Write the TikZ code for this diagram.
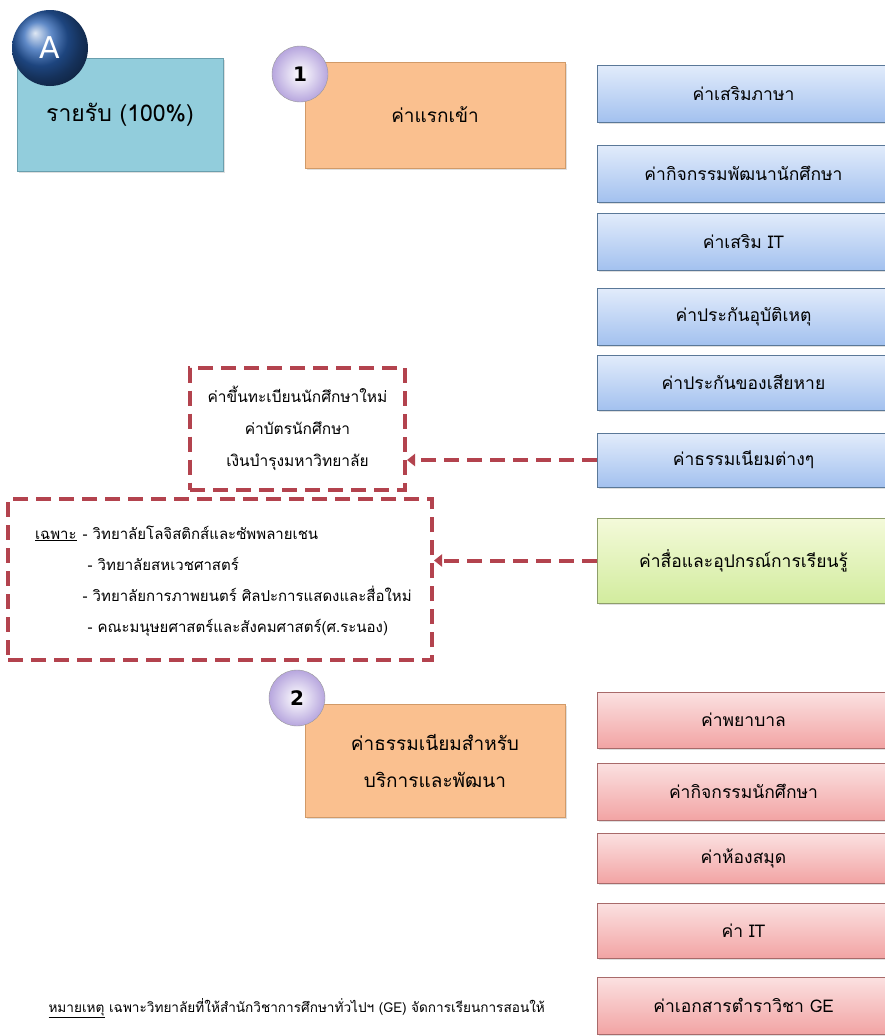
\documentclass[tikz,border=0pt]{standalone}
\usepackage{fontspec}
\setmainfont{Loma}[Script=Thai]
\setsansfont{DejaVu Sans}
\usetikzlibrary{arrows.meta,shadows}

\definecolor{tealfill}{HTML}{92CDDC}
\definecolor{tealline}{HTML}{6A9FAE}
\definecolor{orangefill}{HTML}{FAC08F}
\definecolor{orangeline}{HTML}{D19A68}
\definecolor{bluetop}{HTML}{E2ECFB}
\definecolor{bluebot}{HTML}{A3C1EF}
\definecolor{blueline}{HTML}{5A7898}
\definecolor{greentop}{HTML}{F4FADA}
\definecolor{greenbot}{HTML}{D2EC9E}
\definecolor{greenline}{HTML}{8E9E6A}
\definecolor{redtop}{HTML}{FBE1E1}
\definecolor{redbot}{HTML}{F2A4A4}
\definecolor{redline}{HTML}{A86A6A}
\definecolor{dashred}{HTML}{B3434E}
\definecolor{lavender}{HTML}{B7A6DE}
\definecolor{ballblue}{HTML}{2A62B4}

\begin{document}
\begin{tikzpicture}[x=1pt, y=-1pt,
    box/.style={rectangle, minimum width=293pt, font=\fontsize{17.5}{20}\selectfont,
        drop shadow={opacity=0.25, shadow xshift=1.5pt, shadow yshift=-2pt}},
    bluebox/.style={box, draw=blueline, top color=bluetop, bottom color=bluebot},
    greenbox/.style={box, draw=greenline, top color=greentop, bottom color=greenbot},
    redbox/.style={box, draw=redline, top color=redtop, bottom color=redbot},
    groupbox/.style={box, draw=orangeline, fill=orangefill, minimum width=260pt,
        font=\fontsize{19}{22}\selectfont},
    notebox/.style={draw=dashred, line width=4pt, dash pattern=on 15pt off 8pt},
    feed/.style={dashred, line width=4pt, dash pattern=on 15pt off 8pt,
        -{Triangle[width=12pt,length=8pt]}},
    badge/.style={circle, draw=gray!80, shading=radial, inner color=white,
        outer color=lavender, minimum size=56pt, font=\sffamily\bfseries\fontsize{20}{20}\selectfont}]

    \clip (0,0) rectangle (885,1036);
    \fill[white] (0,0) rectangle (885,1036);

    \node[box, draw=tealline, fill=tealfill, minimum width=206pt, minimum height=113pt,
        font=\fontsize{23}{25}\selectfont] (income) at (120,114.5) {รายรับ (100\%)};
    \node[groupbox, minimum height=106pt] (entry) at (435,115) {ค่าแรกเข้า};
    \node[groupbox, minimum height=113pt, align=center, font=\fontsize{19}{37}\selectfont]
        (service) at (435,760.5) {ค่าธรรมเนียมสำหรับ\\บริการและพัฒนา};

    \node[bluebox, minimum height=57pt] (lang) at (743.5,93.5) {ค่าเสริมภาษา};
    \node[bluebox, minimum height=57pt] (dev) at (743.5,173.5) {ค่ากิจกรรมพัฒนานักศึกษา};
    \node[bluebox, minimum height=57pt] (itplus) at (743.5,241.5) {ค่าเสริม IT};
    \node[bluebox, minimum height=57pt] (accident) at (743.5,316.5) {ค่าประกันอุบัติเหตุ};
    \node[bluebox, minimum height=55pt] (damage) at (743.5,382.5) {ค่าประกันของเสียหาย};
    \node[bluebox, minimum height=54pt] (misc) at (743.5,460) {ค่าธรรมเนียมต่างๆ};
    \node[greenbox, minimum height=85pt] (media) at (743.5,560.5) {ค่าสื่อและอุปกรณ์การเรียนรู้};

    \node[redbox, minimum height=56pt] (nurse) at (743.5,720) {ค่าพยาบาล};
    \node[redbox, minimum height=57pt] (activity) at (743.5,791.5) {ค่ากิจกรรมนักศึกษา};
    \node[redbox, minimum height=50pt] (library) at (743.5,858) {ค่าห้องสมุด};
    \node[redbox, minimum height=55pt] (it) at (743.5,930.5) {ค่า IT};
    \node[redbox, minimum height=57pt] (ge) at (743.5,1005.5) {ค่าเอกสารตำราวิชา GE};

    \node[notebox, minimum width=215pt, minimum height=122pt, align=center,
        font=\fontsize{15.5}{32}\selectfont] (newcomer) at (297.5,428.5)
        {ค่าขึ้นทะเบียนนักศึกษาใหม่\\ค่าบัตรนักศึกษา\\เงินบำรุงมหาวิทยาลัย};
    \node[notebox, minimum height=161pt, inner xsep=27pt, text width=370pt,
        font=\fontsize{15}{31}\selectfont] (faculty) at (220,579.5)
        {\begin{tabular}{@{}l@{\hspace{6pt}}l@{}}
            \underline{เฉพาะ} & - วิทยาลัยโลจิสติกส์และซัพพลายเชน\\
             & \hspace{5pt}- วิทยาลัยสหเวชศาสตร์\\
             & - วิทยาลัยการภาพยนตร์  ศิลปะการแสดงและสื่อใหม่\\
             & \hspace{5pt}- คณะมนุษยศาสตร์และสังคมศาสตร์(ศ.ระนอง)
        \end{tabular}};

    \draw[feed] (misc.west) -- (misc.west -| newcomer.east);
    \draw[feed] (media.west) -- (media.west -| faculty.east);

    \node[circle, ball color=ballblue, minimum size=76pt, text=white,
        font=\sffamily\fontsize{30}{30}\selectfont, inner sep=0pt] (markA) at (50,48) {A};
    \node[badge] (mark1) at (300,74) {1};
    \node[badge] (mark2) at (297,698) {2};

    \node[anchor=west, font=\fontsize{13.6}{15}\selectfont] (remark) at (45,1008)
        {\underline{หมายเหตุ}  เฉพาะวิทยาลัยที่ให้สำนักวิชาการศึกษาทั่วไปฯ (GE) จัดการเรียนการสอนให้};
\end{tikzpicture}
\end{document}
